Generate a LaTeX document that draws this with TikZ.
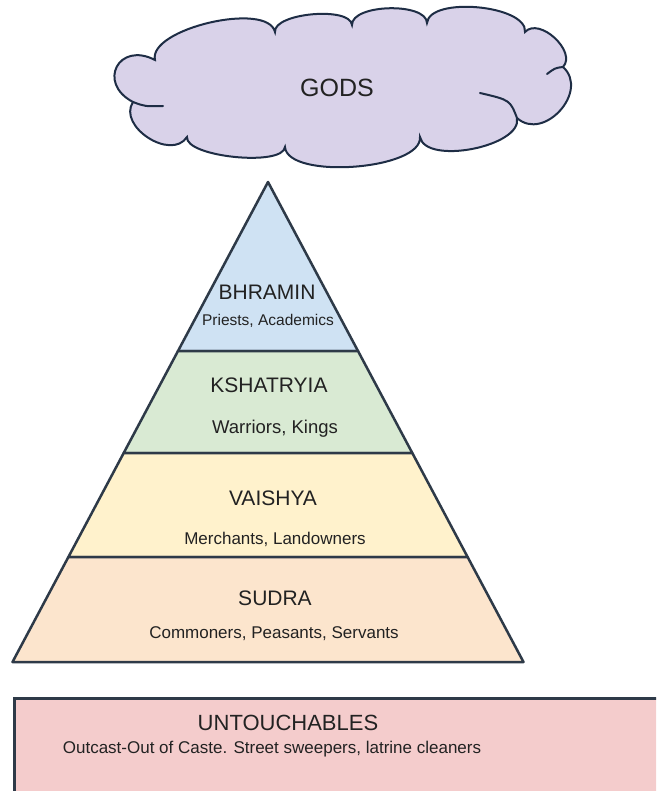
\documentclass[tikz,border=0pt]{standalone}
\usepackage{fontspec}
\setmainfont{Liberation Sans}
\usetikzlibrary{calc}
\definecolor{cloudfill}{HTML}{D9D2E9}
\definecolor{cloudline}{HTML}{1E2D45}
\definecolor{edge}{HTML}{2E3A48}
\definecolor{bhr}{HTML}{CFE2F3}
\definecolor{ksh}{HTML}{D9EAD3}
\definecolor{vai}{HTML}{FFF2CC}
\definecolor{sud}{HTML}{FCE5CD}
\definecolor{unt}{HTML}{F4CCCC}
\definecolor{txt}{HTML}{222222}
\begin{document}
\begin{tikzpicture}[x=1pt,y=-1pt,
  tier/.style={draw=edge, line width=2.5pt, line join=round},
  lbl/.style={text=txt, anchor=base, inner sep=0pt},
  head/.style={lbl, font=\fontsize{21}{25}\selectfont},
  sub/.style={lbl, font=\fontsize{17}{20}\selectfont}]
\useasboundingbox (0,0) rectangle (656,791);
\fill[white] (0,0) rectangle (656,791);
\begin{scope}
\clip (0,0) rectangle (656,791);
% cloud
\coordinate (A) at (155,60);
\coordinate (B) at (275,32);
\coordinate (C) at (352,25);
\coordinate (D) at (427,23);
\coordinate (E) at (525,32);
\coordinate (F) at (563,67);
\coordinate (G) at (517,118);
\coordinate (H) at (420,137);
\coordinate (I) at (285,147);
\coordinate (J) at (187,137);
\coordinate (K) at (133,102);
\filldraw[fill=cloudfill, draw=cloudline, line width=2pt]
  (A) .. controls ($(A)!32pt!90:(B)$) and ($(B)!32pt!-90:(A)$) .. (B)
      .. controls ($(B)!19pt!90:(C)$) and ($(C)!19pt!-90:(B)$) .. (C)
      .. controls ($(C)!21pt!90:(D)$) and ($(D)!21pt!-90:(C)$) .. (D)
      .. controls ($(D)!27pt!90:(E)$) and ($(E)!27pt!-90:(D)$) .. (E)
      .. controls ($(E)!21pt!90:(F)$) and ($(F)!21pt!-90:(E)$) .. (F)
      .. controls ($(F)!36pt!90:(G)$) and ($(G)!36pt!-90:(F)$) .. (G)
      .. controls ($(G)!29pt!90:(H)$) and ($(H)!29pt!-90:(G)$) .. (H)
      .. controls ($(H)!33pt!90:(I)$) and ($(I)!33pt!-90:(H)$) .. (I)
      .. controls ($(I)!20pt!90:(J)$) and ($(J)!20pt!-90:(I)$) .. (J)
      .. controls ($(J)!29pt!90:(K)$) and ($(K)!29pt!-90:(J)$) .. (K)
      .. controls ($(K)!41pt!90:(A)$) and ($(A)!41pt!-90:(K)$) .. (A) -- cycle;
\draw[cloudline, line width=2pt, line cap=round] (K) .. controls (145,106.5) .. (163,106);
\draw[cloudline, line width=2pt, line cap=round] (F) .. controls (555,68) .. (547,74);
\draw[cloudline, line width=2pt, line cap=round] (G) .. controls (510,100) .. (480,93);
\node[lbl, font=\fontsize{25}{30}\selectfont] (gods) at (337,97) {GODS};
% pyramid
\filldraw[tier, fill=bhr] (268,182) -- (358,351) -- (178,351) -- cycle;
\filldraw[tier, fill=ksh] (178,351) -- (358,351) -- (412.3,453) -- (123.7,453) -- cycle;
\filldraw[tier, fill=vai] (123.7,453) -- (412.3,453) -- (467.6,557) -- (68.4,557) -- cycle;
\filldraw[tier, fill=sud] (68.4,557) -- (467.6,557) -- (523.5,662) -- (12.5,662) -- cycle;
\node[head] (bhramin) at (267,299.5) {BHRAMIN};
\node[lbl, font=\fontsize{15.5}{18}\selectfont] (priests) at (268,325.5) {Priests, Academics};
\node[head] (kshatryia) at (269,392.5) {KSHATRYIA};
\node[lbl, font=\fontsize{18.5}{22}\selectfont] (warriors) at (275,433.6) {Warriors, Kings};
\node[head] (vaishya) at (273,505.5) {VAISHYA};
\node[sub] (merchants) at (275,544) {Merchants, Landowners};
\node[head] (sudra) at (275,605.5) {SUDRA};
\node[sub] (commoners) at (274,638) {Commoners, Peasants, Servants};
% untouchables
\filldraw[fill=unt, draw=edge, line width=3pt] (14,698) rectangle (690,830);
\node[lbl, font=\fontsize{22}{26}\selectfont] (untouch) at (288,730) {UNTOUCHABLES};
\node[sub] (outcast) at (272,753) {Outcast-Out of Caste. Street sweepers, latrine cleaners};
\end{scope}
\end{tikzpicture}
\end{document}
